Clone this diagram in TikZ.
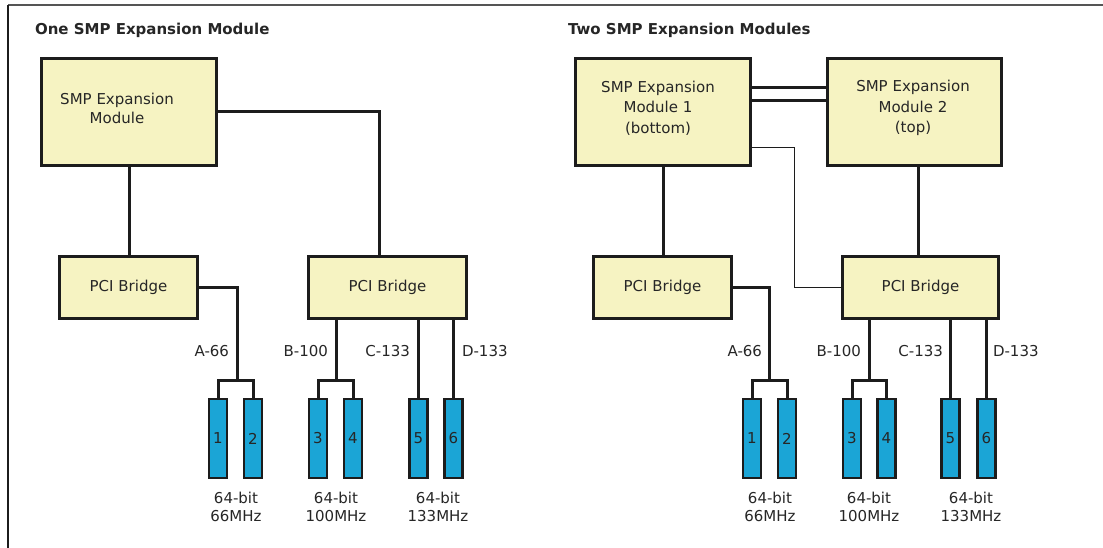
\documentclass[tikz,border=0pt]{standalone}
\usepackage{fontspec}
\setmainfont{DejaVu Sans}
\usetikzlibrary{calc}
\definecolor{boxfill}{HTML}{F6F3C2}
\definecolor{slotfill}{HTML}{1BA5D6}
\definecolor{ink}{HTML}{1C1C1C}
\definecolor{txtc}{HTML}{262626}
\definecolor{framegray}{HTML}{555555}
\begin{document}
\begin{tikzpicture}[x=1pt,y=-1pt,
  every node/.style={font=\fontsize{15}{19}\selectfont, text=txtc, inner sep=0pt, outer sep=0pt},
  box/.style={draw=ink, fill=boxfill, line width=3pt},
  slot/.style={draw=ink, fill=slotfill, line width=2.5pt, minimum width=18pt, minimum height=79pt},
  wire/.style={draw=ink, line width=3pt},
  thinwire/.style={draw=ink, line width=1.6pt},
  title/.style={font=\fontsize{15}{18}\selectfont\bfseries, anchor=base west},
  blabel/.style={align=center, font=\fontsize{15}{18.4}\selectfont},
  three/.style={align=center, font=\fontsize{15}{20.5}\selectfont}
]
\useasboundingbox (0,0) rectangle (1103,548);
\fill[white] (0,0) rectangle (1103,548);
% frame
\coordinate (fa) at (8,548);
\coordinate (fb) at (8,5);
\coordinate (fc) at (1103,5);
\draw[line width=2pt, framegray] (fb) -- (fc);
\draw[line width=2.5pt, ink] (fa) -- (fb);

% ---------------- left half ----------------
\node[title] (t1) at (35,35) {One SMP Expansion Module};
\node[box, minimum width=175pt, minimum height=107pt] (smpL) at (129,112) {};
\node[align=center] (smpLt) at (117,108) {SMP Expansion\\Module};
\node[box, minimum width=138pt, minimum height=62pt] (pciL1) at (128.5,287.5) {PCI Bridge};
\node[box, minimum width=158pt, minimum height=62pt] (pciL2) at (387.5,287.5) {PCI Bridge};

\node[slot] (s1) at (218,438.5) {1};
\node[slot] (s2) at (253,438.5) {2};
\node[slot] (s3) at (318,438.5) {3};
\node[slot] (s4) at (353,438.5) {4};
\node[slot] (s5) at (418.5,438.5) {5};
\node[slot] (s6) at (453.5,438.5) {6};
\coordinate (busA1) at (237,380);
\coordinate (busB1) at (336,380);

\draw[wire] (smpL.south) -- (smpL.south |- pciL1.north);
\draw[wire] (smpL.east) -| ($(pciL2.north)+(-8.5,0)$);
\draw[wire] (pciL1.east) -| (busA1);
\draw[wire] (s1.north) |- (busA1) -| (s2.north);
\draw[wire] (busB1 |- pciL2.south) -- (busB1);
\draw[wire] (s3.north) |- (busB1) -| (s4.north);
\draw[wire] (s5.north) -- (s5.north |- pciL2.south);
\draw[wire] (s6.north) -- (s6.north |- pciL2.south);

\node[anchor=base east] (la1) at (229,356) {A-66};
\node[anchor=base east] (lb1) at (328,356) {B-100};
\node[anchor=base east] (lc1) at (410,356) {C-133};
\node[anchor=base west] (ld1) at (462,356) {D-133};
\node[blabel] (m1) at (236,507) {64-bit\\66MHz};
\node[blabel] (m2) at (336,507) {64-bit\\100MHz};
\node[blabel] (m3) at (438,507) {64-bit\\133MHz};

% ---------------- right half ----------------
\node[title] (t2) at (568,35) {Two SMP Expansion Modules};
\node[box, minimum width=175pt, minimum height=107pt] (smpR1) at (663,112) {};
\node[three] (smpR1t) at (658,108) {SMP Expansion\\Module 1\\(bottom)};
\node[box, minimum width=174pt, minimum height=107pt] (smpR2) at (914.5,112) {};
\node[three] (smpR2t) at (913,108) {SMP Expansion\\Module 2\\(top)};
\node[box, minimum width=138pt, minimum height=62pt] (pciR1) at (662.5,287.5) {PCI Bridge};
\node[box, minimum width=156pt, minimum height=62pt] (pciR2) at (920.5,287.5) {PCI Bridge};

\node[slot] (r1) at (752,438.5) {1};
\node[slot] (r2) at (787,438.5) {2};
\node[slot] (r3) at (852,438.5) {3};
\node[slot] (r4) at (886.5,438.5) {4};
\node[slot] (r5) at (950.5,438.5) {5};
\node[slot] (r6) at (986.5,438.5) {6};
\coordinate (busA2) at (769,380);
\coordinate (busB2) at (869,380);

\draw[wire] ($(smpR1.north east)+(0,29)$) -- ($(smpR2.north west)+(0,29)$);
\draw[wire] ($(smpR1.north east)+(0,42)$) -- ($(smpR2.north west)+(0,42)$);
\draw[thinwire] ($(smpR1.north east)+(0,89)$) -- ++(44,0) |- (pciR2.west);
\draw[wire] (smpR1.south) -- (smpR1.south |- pciR1.north);
\draw[wire] ($(pciR2.north)+(-2.5,0)$) -- ($(pciR2.north |- smpR2.south)+(-2.5,0)$);
\draw[wire] (pciR1.east) -| (busA2);
\draw[wire] (r1.north) |- (busA2) -| (r2.north);
\draw[wire] (busB2 |- pciR2.south) -- (busB2);
\draw[wire] (r3.north) |- (busB2) -| (r4.north);
\draw[wire] (r5.north) -- (r5.north |- pciR2.south);
\draw[wire] (r6.north) -- (r6.north |- pciR2.south);

\node[anchor=base east] (la2) at (762,356) {A-66};
\node[anchor=base east] (lb2) at (861,356) {B-100};
\node[anchor=base east] (lc2) at (943,356) {C-133};
\node[anchor=base west] (ld2) at (993,356) {D-133};
\node[blabel] (n1) at (770,507) {64-bit\\66MHz};
\node[blabel] (n2) at (869,507) {64-bit\\100MHz};
\node[blabel] (n3) at (971,507) {64-bit\\133MHz};
\end{tikzpicture}
\end{document}
